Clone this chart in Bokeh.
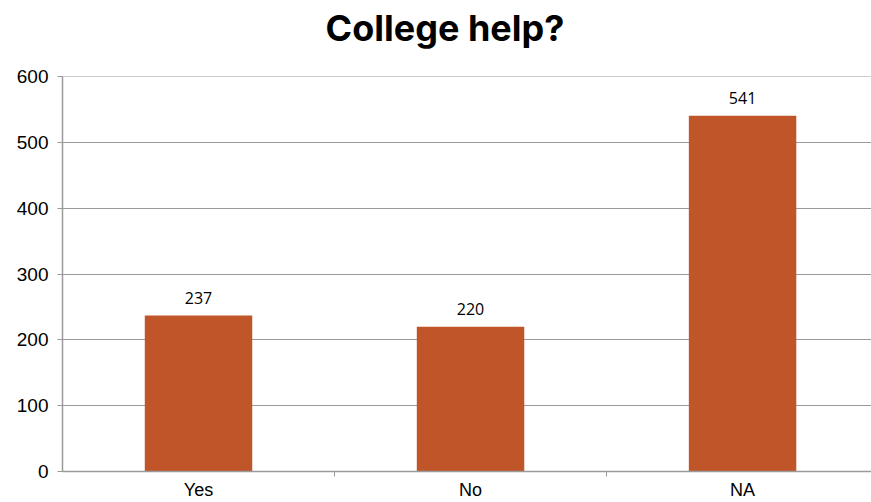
from bokeh.plotting import figure
from bokeh.models import ColumnDataSource, Range1d, FixedTicker, LabelSet, Title
from bokeh.core.properties import value
from bokeh.embed import file_html
from bokeh.resources import INLINE

categories = ["Yes", "No", "NA"]
counts = [237, 220, 541]
y_ticks = [0, 100, 200, 300, 400, 500, 600]

xpos = [i + 0.5 for i in range(len(categories))]
source = ColumnDataSource(dict(x=xpos, top=counts, label=[str(c) for c in counts]))

p = figure(width=871, height=502, output_backend="svg", toolbar_location=None,
           x_range=Range1d(0, 2.974), y_range=Range1d(0, 600.5),
           min_border_left=62, min_border_right=0, min_border_top=76, min_border_bottom=31)
p.outline_line_color = None

p.title = None
spacer = Title(text=" ", text_font_size="10px", standoff=14)
p.add_layout(spacer, "above")
title = Title(text="College help?", align="left", offset=263, standoff=0,
              text_font="Inter", text_font_size="36px", text_font_style="bold",
              text_color="#000000")
p.add_layout(title, "above")

p.vbar(x="x", top="top", width=0.395, bottom=0, source=source,
       fill_color="#C05529", line_color=None)

labels = LabelSet(x="x", y="top", text="label", source=source, text_align="center",
                  text_baseline="alphabetic", y_offset=12, text_font=value("Open Sans"),
                  text_font_size="16px", text_color="#000000")
p.add_layout(labels)

# x axis
p.xaxis.ticker = FixedTicker(ticks=xpos, minor_ticks=[1, 2])
p.xaxis.major_label_overrides = {x: c for x, c in zip(xpos, categories)}
p.xaxis.major_tick_out = 0
p.xaxis.major_tick_in = 0
p.xaxis.minor_tick_out = 5
p.xaxis.minor_tick_in = 0
p.xaxis.minor_tick_line_color = "#9a9a9a"
p.xaxis.axis_line_color = "#9a9a9a"
p.xaxis.axis_line_width = 1.5
p.xaxis.major_label_text_font = "Liberation Sans"
p.xaxis.major_label_text_font_size = "18px"
p.xaxis.major_label_text_color = "#000000"
p.xaxis.major_label_standoff = 3

# y axis
p.yaxis.ticker = FixedTicker(ticks=y_ticks)
p.yaxis.major_tick_out = 5
p.yaxis.major_tick_in = 0
p.yaxis.minor_tick_line_color = None
p.yaxis.major_tick_line_color = "#9a9a9a"
p.yaxis.axis_line_color = "#9a9a9a"
p.yaxis.axis_line_width = 1.5
p.yaxis.major_label_text_font = "Liberation Sans"
p.yaxis.major_label_text_font_size = "19px"
p.yaxis.major_label_text_color = "#000000"
p.yaxis.major_label_standoff = 9

p.xgrid.grid_line_color = None
p.ygrid.grid_line_color = "#9a9a9a"
p.ygrid.grid_line_width = 1.2

open("out.html", "w").write(file_html(p, INLINE))
